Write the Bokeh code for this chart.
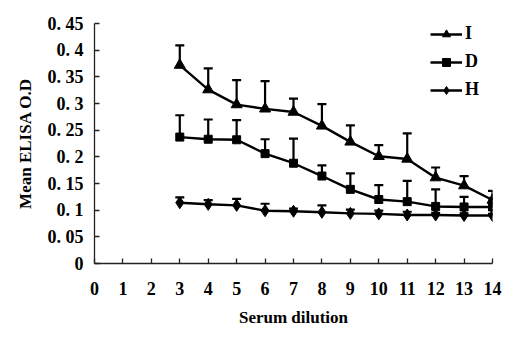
from bokeh.plotting import figure
from bokeh.models import (ColumnDataSource, Whisker, TeeHead, Range1d, FixedTicker,
                          Legend, LegendItem)
from bokeh.embed import file_html
from bokeh.resources import INLINE

# ---- data ----
dilution = [3, 4, 5, 6, 7, 8, 9, 10, 11, 12, 13, 14]
I_mean = [0.372, 0.326, 0.298, 0.290, 0.284, 0.258, 0.228, 0.201, 0.196, 0.161, 0.146, 0.119]
I_err = [0.037, 0.040, 0.046, 0.052, 0.025, 0.041, 0.031, 0.021, 0.048, 0.019, 0.018, 0.017]
D_mean = [0.237, 0.233, 0.232, 0.206, 0.188, 0.164, 0.139, 0.120, 0.116, 0.107, 0.106, 0.106]
D_err = [0.041, 0.037, 0.037, 0.027, 0.046, 0.020, 0.030, 0.027, 0.039, 0.032, 0.019, 0.016]
H_mean = [0.114, 0.111, 0.109, 0.099, 0.098, 0.096, 0.094, 0.093, 0.091, 0.091, 0.090, 0.090]
H_err = [0.010, 0.008, 0.012, 0.013, 0.005, 0.013, 0.007, 0.006, 0.006, 0.004, 0.004, 0.003]

x_ticks = list(range(0, 15))
y_ticks = [0, 0.05, 0.1, 0.15, 0.2, 0.25, 0.3, 0.35, 0.4, 0.45]
y_labels = ["0", "0. 05", "0. 1", "0. 15", "0. 2", "0. 25", "0. 3", "0. 35", "0. 4", "0. 45"]

FONT = "Liberation Serif"

p = figure(width=526, height=343, output_backend="svg", toolbar_location=None,
           x_range=Range1d(0, 14), y_range=Range1d(0, 0.45),
           min_border_left=94, min_border_right=34, min_border_top=23, min_border_bottom=80)
p.outline_line_color = None
p.grid.visible = False
p.background_fill_color = "white"
p.border_fill_color = "white"

for ax in (p.xaxis[0], p.yaxis[0]):
    ax.axis_line_color = "#222222"
    ax.axis_line_width = 1.3
    ax.major_tick_in = 5
    ax.major_tick_out = 0
    ax.major_tick_line_color = "#222222"
    ax.major_tick_line_width = 1.3
    ax.minor_tick_line_color = None
    ax.major_label_text_font = FONT
    ax.major_label_text_font_style = "bold"
    ax.major_label_text_font_size = "18px"
    ax.major_label_text_color = "black"
    ax.axis_label_text_font = FONT
    ax.axis_label_text_font_style = "bold"
    ax.axis_label_text_color = "black"

p.xaxis.ticker = FixedTicker(ticks=x_ticks)
p.yaxis.ticker = FixedTicker(ticks=y_ticks)
p.yaxis.major_label_overrides = {t: l for t, l in zip(y_ticks, y_labels)}
p.xaxis.major_label_standoff = 18
p.yaxis.major_label_standoff = 11
p.xaxis.axis_label = "Serum dilution"
p.yaxis.axis_label = "Mean ELISA O.D"
p.xaxis.axis_label_text_font_size = "17px"
p.yaxis.axis_label_text_font_size = "17px"
p.xaxis.axis_label_standoff = 10
p.yaxis.axis_label_standoff = 10

series = [
    ("I", I_mean, I_err, "triangle", 11),
    ("D", D_mean, D_err, "square", 8),
    ("H", H_mean, H_err, "diamond", 12),
]
items = []
for name, mean, err, marker, size in series:
    src = ColumnDataSource(dict(x=dilution, y=mean,
                                upper=[m + e for m, e in zip(mean, err)],
                                lower=mean))
    ln = p.line("x", "y", source=src, line_color="black", line_width=2.4)
    sc = p.scatter("x", "y", source=src, marker=marker, size=size,
                   fill_color="black", line_color="black")
    wh = Whisker(base="x", upper="upper", lower="lower", source=src, dimension="height",
                 line_color="black", line_width=2.2,
                 upper_head=TeeHead(size=9, line_width=2.2, line_color="black"),
                 lower_head=None)
    p.add_layout(wh)
    items.append(LegendItem(label=name, renderers=[ln, sc]))

legend = Legend(items=items, location=(336, 163), orientation="vertical",
                glyph_width=32, glyph_height=20, label_height=20, spacing=7,
                label_standoff=3, padding=0, margin=0,
                border_line_color=None, background_fill_alpha=0,
                label_text_font=FONT, label_text_font_style="bold",
                label_text_font_size="18px", label_text_color="black")
p.add_layout(legend)

open("out.html", "w").write(file_html(p, INLINE))
